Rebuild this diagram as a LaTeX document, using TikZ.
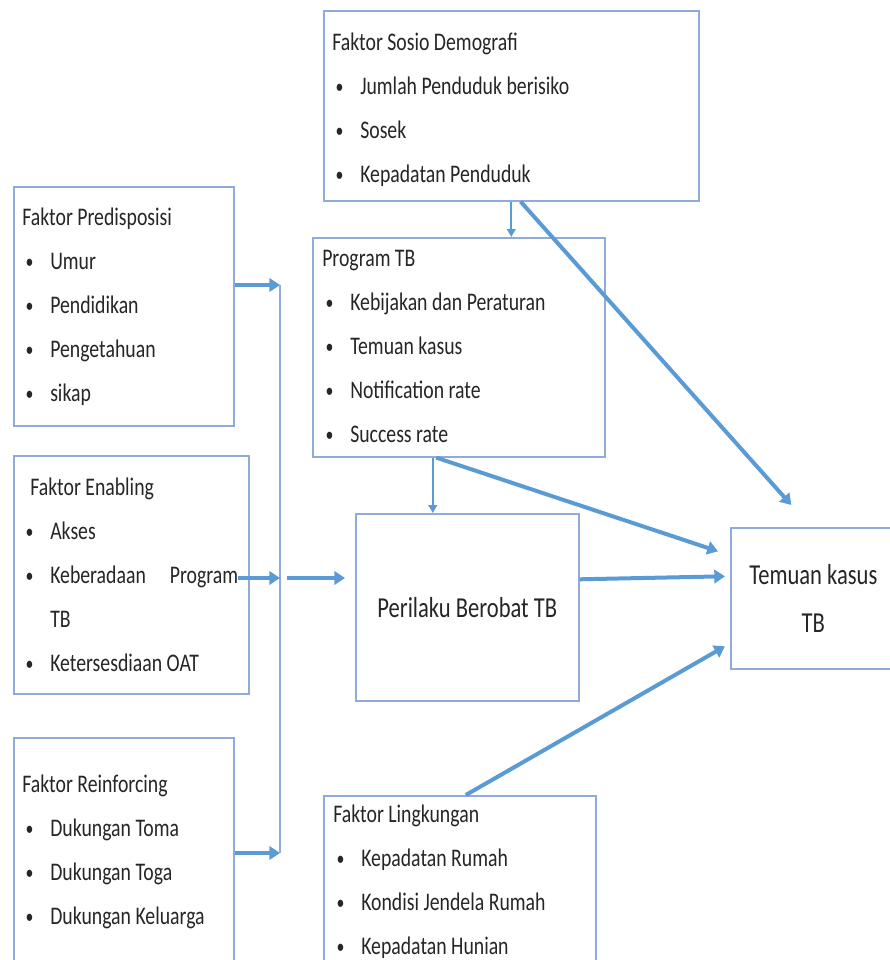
\documentclass[tikz,border=0pt]{standalone}
\usepackage{fontspec}
\setmainfont{Carlito}[FakeStretch=0.78]
\usetikzlibrary{arrows.meta,positioning,calc}
\definecolor{tbframe}{HTML}{8FAADC}
\definecolor{tbarrow}{HTML}{5B9BD5}
\definecolor{tbtext}{HTML}{262626}
\newcommand{\itm}{\makebox[21pt][l]{\hspace{2.5pt}\raisebox{0.8pt}{\scalebox{0.8}{\textbullet}}}}

\begin{document}
\begin{tikzpicture}[
  x=0.75pt, y=-0.75pt,
  box/.style={
    rectangle, draw=tbframe, line width=1.2pt, fill=white,
    anchor=north west, inner sep=0pt
  },
  list/.style={
    anchor=north west, inner sep=0pt, align=left, text=tbtext,
    font=\fontsize{19}{33}\selectfont
  },
  big/.style={align=center, text=tbtext, font=\fontsize{21.7}{36}\selectfont},
  thin/.style={-{Triangle[length=6pt,width=6.5pt]}, draw=tbarrow, line width=1.5pt},
  fat/.style={-{Triangle[length=8pt,width=10pt]}, draw=tbarrow, line width=3pt},
  bus/.style={draw=tbframe, line width=1.2pt},
]
  \useasboundingbox (0,0) rectangle (889,960);

  % Faktor boxes on the left
  \node[box, minimum width=165pt, minimum height=179.25pt] (predis) at (13,186) {};
  \node[list] (predistx) at ([shift={(9,22)}]predis.north west) {%
    \rule{0pt}{12pt}Faktor Predisposisi\\
    \itm Umur\\
    \itm Pendidikan\\
    \itm Pengetahuan\\
    \itm sikap};

  \node[box, minimum width=176.25pt, minimum height=178.5pt] (enab) at (13,455) {};
  \node[list] (enabtx) at ([shift={(9,23)}]enab.north west) {%
    \rule{0pt}{12pt}\hspace{6pt}Faktor Enabling\\
    \itm Akses\\
    \itm Keberadaan\hspace{18pt}Program\\
    \hspace{21pt}TB\\
    \itm Ketersesdiaan OAT};

  \node[box, minimum width=165pt, minimum height=197pt] (reinf) at (13,737) {};
  \node[list] (reinftx) at ([shift={(9,38)}]reinf.north west) {%
    \rule{0pt}{12pt}Faktor Reinforcing\\
    \itm Dukungan Toma\\
    \itm Dukungan Toga\\
    \itm Dukungan Keluarga};

  % Faktor boxes in the middle
  \node[box, minimum width=281.25pt, minimum height=142.5pt] (sosio) at (323,10) {};
  \node[list] (sosiotx) at ([shift={(9,23)}]sosio.north west) {%
    \rule{0pt}{12pt}Faktor Sosio Demografi\\
    \itm Jumlah Penduduk berisiko\\
    \itm Sosek\\
    \itm Kepadatan Penduduk};

  \node[box, minimum width=219pt, minimum height=164.25pt] (prog) at (312,237) {};
  \node[list] (progtx) at ([shift={(10,13)}]prog.north west) {%
    \rule{0pt}{12pt}Program TB\\
    \itm Kebijakan dan Peraturan\\
    \itm Temuan kasus\\
    \itm Notification rate\\
    \itm Success rate};

  \node[box, big, minimum width=167.25pt, minimum height=140.25pt] (peril) at (355,513) {Perilaku Berobat TB};

  \node[box, minimum width=204pt, minimum height=153.75pt] (ling) at (323,795) {};
  \node[list] (lingtx) at ([shift={(10,10)}]ling.north west) {%
    \rule{0pt}{12pt}Faktor Lingkungan\\
    \itm Kepadatan Rumah\\
    \itm Kondisi Jendela Rumah\\
    \itm Kepadatan Hunian};

  % Outcome
  \node[box, big, minimum width=123.75pt, minimum height=105.75pt] (temuan) at (730,527) {Temuan kasus\\TB};

  % Collecting line
  \coordinate (bt) at (280,285);
  \coordinate (bm) at (280,578);
  \coordinate (bb) at (280,853);
  \draw[bus] (bt) -- (bb);
  \draw[fat] (predis.east |- bt) -- (bt);
  \draw[fat, shorten <=-9pt] (enab.east |- bm) -- (bm);
  \draw[fat] (reinf.east |- bb) -- (bb);
  \draw[fat, shorten >=7.5pt] ([xshift=5pt]bm) -- (peril.west |- bm);

  % Arrows
  \coordinate (pp) at ([xshift=-19.5pt]prog.south);
  \draw[thin] (sosio.south) -- (sosio.south |- prog.north);
  \draw[thin] (pp) -- (pp |- peril.north);
  \draw[fat] ([xshift=7pt]sosio.south) -- ([shift={(-22,-22)}]temuan.north);
  \draw[fat] ([xshift=-17pt]prog.south) -- ([shift={(-12,-47)}]temuan.west);
  \draw[fat] ([yshift=21pt]peril.east) -- ([shift={(-5,-22)}]temuan.west);
  \draw[fat] ([xshift=4.5pt]ling.north) -- ([shift={(-5,48)}]temuan.west);
\end{tikzpicture}
\end{document}
